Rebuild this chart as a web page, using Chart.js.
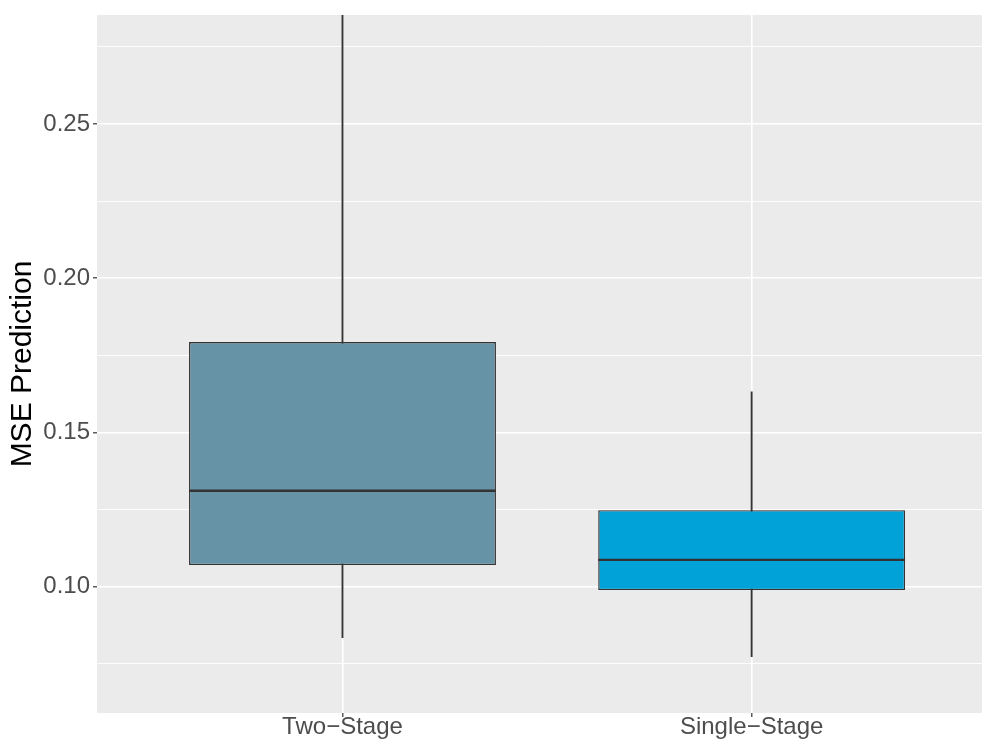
<!DOCTYPE html>
<html>
<head>
<meta charset="utf-8">
<script src="https://cdn.jsdelivr.net/npm/chart.js@4"></script>
<style>
  html, body { margin: 0; padding: 0; background: #ffffff; }
  canvas { display: block; }
</style>
</head>
<body>
<canvas id="boxChart" width="982" height="740"></canvas>
<script>
// values
const categories = ['Two−Stage', 'Single−Stage'];
const whiskerLow = [0.0835, 0.0773];
const q1 = [0.1070, 0.0989];
const median = [0.1311, 0.1087];
const q3 = [0.1793, 0.1248];
const whiskerHigh = [0.2950, 0.1632];
const boxColors = ['#6793A7', '#00A2D8'];

const yMajorTicks = [0.10, 0.15, 0.20, 0.25];
const yMinorTicks = [0.075, 0.125, 0.175, 0.225, 0.275];
const yLimits = [0.05905, 0.28534];
const xLimits = [0.4, 2.563];

const xPos = categories.map((c, i) => i + 1);
const toBars = (lo, hi) => xPos.map((x, i) => ({ x: x, y: [lo[i], hi[i]] }));

Chart.defaults.font.family = '"Liberation Sans", Arial, sans-serif';

const panelBackground = {
    id: 'panelBackground',
    beforeDraw(chart) {
        const { ctx, chartArea: a } = chart;
        ctx.save();
        ctx.fillStyle = '#EBEBEB';
        ctx.fillRect(a.left, a.top, a.right - a.left, a.bottom - a.top);
        ctx.restore();
    }
};

// median line across each box, placed with the y scale
const medianLines = {
    id: 'medianLines',
    afterDatasetsDraw(chart) {
        const { ctx } = chart;
        const yScale = chart.scales.y;
        const boxes = chart.getDatasetMeta(1).data;
        ctx.save();
        ctx.strokeStyle = '#333333';
        ctx.lineWidth = 2.4;
        boxes.forEach((bar, i) => {
            const py = yScale.getPixelForValue(median[i]);
            ctx.beginPath();
            ctx.moveTo(bar.x - bar.width / 2, py);
            ctx.lineTo(bar.x + bar.width / 2, py);
            ctx.stroke();
        });
        ctx.restore();
    }
};

const isMajor = (v) => yMajorTicks.some(t => Math.abs(t - v) < 1e-9);

const ctx = document.getElementById('boxChart').getContext('2d');
const boxChart = new Chart(ctx, {
    type: 'bar',
    data: {
        datasets: [{
            label: 'whiskers',
            data: toBars(whiskerLow, whiskerHigh),
            backgroundColor: '#333333',
            barThickness: 1.2,
            order: 2
        }, {
            label: 'box',
            data: toBars(q1, q3),
            backgroundColor: boxColors,
            borderColor: '#333333',
            borderWidth: 1.4,
            borderSkipped: false,
            barPercentage: 0.75,
            categoryPercentage: 1,
            order: 1
        }]
    },
    options: {
        responsive: false,
        animation: false,
        events: [],
        layout: { padding: { top: 15, right: 0, bottom: 0, left: 0 } },
        plugins: {
            legend: { display: false },
            tooltip: { enabled: false }
        },
        scales: {
            x: {
                type: 'linear',
                stacked: true,
                offset: false,
                min: xLimits[0],
                max: xLimits[1],
                afterBuildTicks: (scale) => { scale.ticks = xPos.map(v => ({ value: v })); },
                afterFit: (scale) => { scale.height = 27; },
                border: { display: false },
                grid: {
                    offset: false,
                    color: '#FFFFFF',
                    lineWidth: 1.6,
                    tickColor: '#333333',
                    tickWidth: 1.2,
                    tickLength: 4
                },
                ticks: {
                    autoSkip: false,
                    maxRotation: 0,
                    padding: -1.5,
                    color: '#4D4D4D',
                    font: { size: 24, lineHeight: 1 },
                    callback: (value, index) => categories[index]
                }
            },
            y: {
                stacked: false,
                min: yLimits[0],
                max: yLimits[1],
                afterBuildTicks: (scale) => {
                    scale.ticks = yMinorTicks.concat(yMajorTicks).sort((a, b) => a - b).map(v => ({ value: v }));
                },
                afterFit: (scale) => { scale.width = 97; },
                border: { display: false },
                grid: {
                    color: '#FFFFFF',
                    lineWidth: (c) => isMajor(c.tick.value) ? 1.6 : 0.9,
                    tickColor: (c) => isMajor(c.tick.value) ? '#333333' : 'rgba(0,0,0,0)',
                    tickWidth: 1.2,
                    tickLength: 4
                },
                ticks: {
                    autoSkip: false,
                    padding: 3,
                    color: '#4D4D4D',
                    font: { size: 24, lineHeight: 1 },
                    callback: (value) => isMajor(value) ? value.toFixed(2) : ''
                },
                title: {
                    display: true,
                    text: 'MSE Prediction',
                    color: '#000000',
                    font: { size: 30, lineHeight: 1 },
                    padding: { top: 8, bottom: 0 }
                }
            }
        }
    },
    plugins: [panelBackground, medianLines]
});
</script>
</body>
</html>
